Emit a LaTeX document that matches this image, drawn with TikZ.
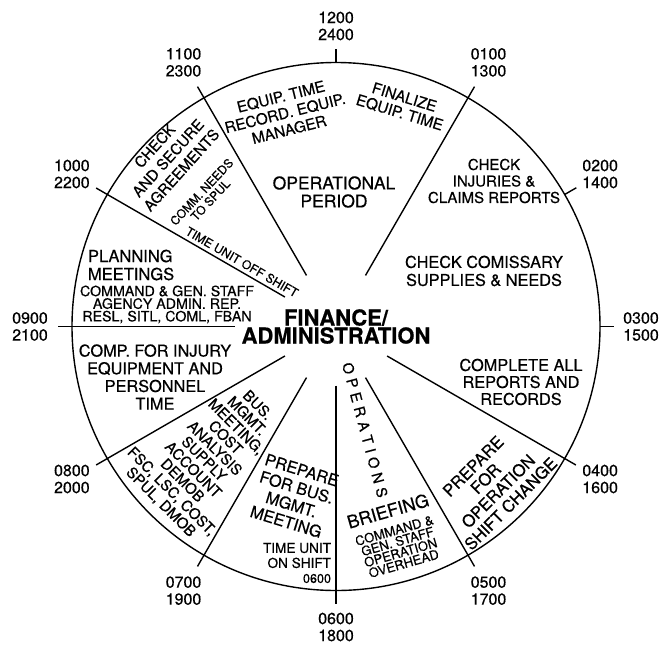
\documentclass[tikz,border=0pt]{standalone}
\usepackage{fontspec}
\setmainfont{TeX Gyre Heros}[FakeBold=0.5]
\usetikzlibrary{calc}
\newcommand{\fsz}[2]{\fontsize{#1}{#2}\selectfont}
\tikzset{
  ln/.style={line width=1.4pt, line cap=butt},
  txt/.style={align=center, inner sep=0pt, outer sep=0pt},
  tlabel/.style={txt, font=\fsz{16}{17}},
  body/.style={txt, font=\fsz{16.3}{18}},
}
% clock point: angle (deg, clockwise from top), radius
\newcommand{\cpt}[3]{\coordinate (#1) at ({336+#3*sin(#2)},{326.5-#3*cos(#2)});}
\begin{document}
\begin{tikzpicture}[x=1pt,y=-1pt]
\useasboundingbox (0,0) rectangle (663,648);
\fill[white] (0,0) rectangle (663,648);
\coordinate (C) at (336,326.5);
\draw[ln] (C) circle (264);

% radial dividers
\foreach \a/\n in {30/a,120/d,150/e,180/f,210/g,240/h,300/j,330/k}{
  \cpt{in\n}{\a}{59}\cpt{out\n}{\a}{277}
  \draw[ln] (in\n) -- (out\n);
}
\cpt{ini}{270}{101}\cpt{outi}{270}{278}
\draw[ln] (ini) -- (outi);
% ticks only
\foreach \a/\n in {0/l,60/b,90/c}{
  \cpt{tin\n}{\a}{264}\cpt{tout\n}{\a}{277.5}
  \draw[ln] (tin\n) -- (tout\n);
}

% time labels
\node[tlabel] (t12) at (336,26) {1200\\2400};
\node[tlabel] (t01) at ({336+305*sin(30)},{326.5-305*cos(30)}) {0100\\1300};
\node[tlabel] (t02) at ({336+305*sin(60)},{326.5-305*cos(60)}) {0200\\1400};
\node[tlabel] (t03) at (641,326.5) {0300\\1500};
\node[tlabel] (t04) at ({336+305*sin(120)},{326.5-305*cos(120)}) {0400\\1600};
\node[tlabel] (t05) at ({336+305*sin(150)},{326.5-305*cos(150)}) {0500\\1700};
\node[tlabel] (t06) at (336,627) {0600\\1800};
\node[tlabel] (t07) at ({336+305*sin(210)},{326.5-305*cos(210)}) {0700\\1900};
\node[tlabel] (t08) at ({336+305*sin(240)},{326.5-305*cos(240)}) {0800\\2000};
\node[tlabel] (t09) at (30,326.5) {0900\\2100};
\node[tlabel] (t10) at ({336+305*sin(300)},{326.5-305*cos(300)}) {1000\\2200};
\node[tlabel] (t11) at ({336+305*sin(330)},{326.5-305*cos(330)}) {1100\\2300};

% centre
\node[txt, font=\bfseries\fsz{22}{18}] (fin) at (C) {FINANCE/\\ADMINISTRATION};

% top sector
\node[txt, font=\fsz{17.5}{18}] (op) at (334,192) {OPERATIONAL\\PERIOD};
\node[txt, font=\fsz{15.2}{17}, rotate=14] (eq) at (285,113) {EQUIP. TIME\\RECORD. EQUIP.\\MANAGER};
\node[txt, font=\fsz{15.2}{16}, rotate=-17] (fz) at (402,105) {FINALIZE\\EQUIP. TIME};
\node[txt, font=\fsz{15}{16.5}] (ci) at (494,181) {CHECK\\INJURIES \&\\CLAIMS REPORTS};

% right
\node[body] (cc) at (484,271) {CHECK COMISSARY\\SUPPLIES \& NEEDS};
\node[txt, font=\fsz{16.3}{17}] (ca) at (521,382) {COMPLETE ALL\\REPORTS AND\\RECORDS};
\node[txt, font=\fsz{16.5}{17.7}, rotate=45] (po) at (492,485) {PREPARE\\FOR\\OPERATION\\SHIFT CHANGE};

% bottom right
\node[txt, font=\fsz{17.8}{18}, rotate=16] (br) at (388,511) {BRIEFING};
\node[txt, font=\fsz{13}{11.5}, rotate=16] (cg) at (399,547) {COMMAND \&\\GEN. STAFF\\OPERATION\\OVERHEAD};
\node[txt, font=\fsz{14.6}{15}, rotate=-75] (ops) at (365,430)
  {O\hspace{4.8pt}P\hspace{4.8pt}E\hspace{4.8pt}R\hspace{4.8pt}A\hspace{4.8pt}T\hspace{4.8pt}I\hspace{4.8pt}O\hspace{4.8pt}N\hspace{4.8pt}S};

% bottom left
\node[txt, align=right, font=\fsz{13.6}{15}, anchor=east] (tu) at (331,563) {TIME UNIT\\ON SHIFT\\{\fsz{12.6}{15}0600}};
\node[txt, font=\fsz{16.2}{18}, rotate=-17] (pb) at (294,496) {PREPARE\\FOR BUS.\\MGMT.\\MEETING};
\node[txt, font=\fsz{14.8}{15.2}, rotate=-45] (bm) at (209,454)
  {BUS.\\MGMT.\\MEETING,\\COST\\ANALYSIS\\SUPPLY\\ACCOUNT\\DEMOB\\FSC, LSC, COST,\\SPUL, DMOB};

% left
\node[txt, font=\fsz{16.3}{17.7}] (cp) at (155,377) {COMP. FOR INJURY\\EQUIPMENT AND\\PERSONNEL\\TIME};
\node[txt, font=\fsz{14.2}{12.6}] (cs) at (167,304.5) {COMMAND \& GEN. STAFF\\AGENCY ADMIN. REP.\\RESL, SITL, COML, FBAN};
\node[txt, align=left, anchor=west, font=\fsz{16.5}{18}] (pm) at (88,265) {PLANNING\\MEETINGS};
\node[txt, font=\fsz{12.2}{12}, rotate=-30] (tos) at (242,262) {TIME UNIT OFF SHIFT};
\node[txt, font=\fsz{15}{18}, rotate=48] (cs2) at (168,158) {CHECK\\AND SECURE\\AGREEMENTS};
\node[txt, font=\fsz{12}{12}, rotate=47] (cn) at (206,196) {COMM. NEEDS\\TO SPUL};
\end{tikzpicture}
\end{document}
